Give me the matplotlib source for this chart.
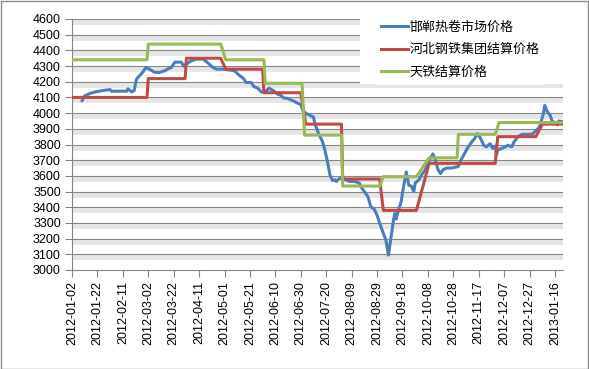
import numpy as np
import pandas as pd
import matplotlib
matplotlib.use('Agg')
import matplotlib.pyplot as plt
import matplotlib.dates as mdates
from matplotlib import patheffects as pe
from matplotlib.patches import Rectangle

plt.rcParams['font.family'] = ['Liberation Sans', 'Noto Sans CJK SC', 'DejaVu Sans']

# 邯郸热卷市场价格
handan_dates = [
    '2012-01-10', '2012-01-12', '2012-01-16', '2012-01-20', '2012-01-27', '2012-02-01',
    '2012-02-02', '2012-02-14', '2012-02-15', '2012-02-18', '2012-02-20', '2012-02-21',
    '2012-02-22', '2012-02-25', '2012-02-27', '2012-02-29', '2012-03-03', '2012-03-07',
    '2012-03-11', '2012-03-15', '2012-03-17', '2012-03-20', '2012-03-23', '2012-03-28',
    '2012-03-30', '2012-04-04', '2012-04-09', '2012-04-14', '2012-04-18', '2012-04-22',
    '2012-04-25', '2012-05-01', '2012-05-05', '2012-05-09', '2012-05-12', '2012-05-16',
    '2012-05-18', '2012-05-22', '2012-05-24', '2012-05-27', '2012-05-30', '2012-06-02',
    '2012-06-05', '2012-06-09', '2012-06-12', '2012-06-14', '2012-06-17', '2012-06-19',
    '2012-06-22', '2012-06-25', '2012-06-27', '2012-06-30', '2012-07-02', '2012-07-04',
    '2012-07-06', '2012-07-10', '2012-07-11', '2012-07-14', '2012-07-17', '2012-07-19',
    '2012-07-21', '2012-07-23', '2012-07-25', '2012-07-27', '2012-07-28', '2012-07-30',
    '2012-08-01', '2012-08-03', '2012-08-07', '2012-08-11', '2012-08-15', '2012-08-16',
    '2012-08-19', '2012-08-22', '2012-08-24', '2012-08-27', '2012-08-29', '2012-08-31',
    '2012-09-02', '2012-09-05', '2012-09-07', '2012-09-09', '2012-09-11', '2012-09-12',
    '2012-09-13', '2012-09-15', '2012-09-17', '2012-09-18', '2012-09-21', '2012-09-22',
    '2012-09-23', '2012-09-25', '2012-09-27', '2012-09-28', '2012-10-01', '2012-10-03',
    '2012-10-06', '2012-10-09', '2012-10-12', '2012-10-14', '2012-10-16', '2012-10-18',
    '2012-10-20', '2012-10-23', '2012-10-27', '2012-11-01', '2012-11-03', '2012-11-06',
    '2012-11-08', '2012-11-11', '2012-11-14', '2012-11-16', '2012-11-17', '2012-11-19',
    '2012-11-21', '2012-11-23', '2012-11-26', '2012-11-28', '2012-11-30', '2012-12-01',
    '2012-12-02', '2012-12-05', '2012-12-08', '2012-12-10', '2012-12-13', '2012-12-15',
    '2012-12-18', '2012-12-21', '2012-12-29', '2012-12-31', '2013-01-02', '2013-01-04',
    '2013-01-07', '2013-01-08', '2013-01-10', '2013-01-12', '2013-01-14', '2013-01-17',
    '2013-01-18', '2013-01-19', '2013-01-22',
]
handan_price = [
    4080, 4110, 4125, 4135, 4145, 4150,
    4140, 4140, 4155, 4135, 4145, 4190,
    4220, 4245, 4265, 4290, 4280, 4260,
    4260, 4270, 4280, 4290, 4325, 4325,
    4300, 4330, 4345, 4345, 4320, 4290,
    4280, 4280, 4275, 4270, 4245, 4220,
    4195, 4195, 4170, 4160, 4135, 4135,
    4160, 4140, 4120, 4115, 4095, 4095,
    4085, 4075, 4065, 4055, 4010, 4000,
    3990, 3975, 3935, 3870, 3820, 3765,
    3690, 3605, 3570, 3575, 3565, 3580,
    3590, 3580, 3565, 3565, 3555, 3535,
    3500, 3465, 3405, 3385, 3350, 3300,
    3255, 3190, 3095, 3210, 3320, 3360,
    3325, 3385, 3435, 3490, 3625, 3585,
    3540, 3535, 3500, 3555, 3575, 3605,
    3640, 3700, 3740, 3700, 3640, 3615,
    3640, 3650, 3650, 3660, 3700, 3745,
    3775, 3810, 3840, 3870, 3860, 3830,
    3795, 3785, 3805, 3775, 3790, 3735,
    3765, 3775, 3785, 3795, 3785, 3820,
    3850, 3865, 3865, 3880, 3895, 3915,
    4000, 4050, 4010, 3990, 3945, 3940,
    3925, 3950, 3945,
]

# 河北钢铁集团结算价格
hebei_dates = [
    '2012-01-02', '2012-03-01', '2012-03-02', '2012-03-31', '2012-04-01', '2012-04-28',
    '2012-05-02', '2012-05-31', '2012-06-01', '2012-06-30', '2012-07-04', '2012-08-01',
    '2012-08-02', '2012-08-31', '2012-09-03', '2012-09-29', '2012-10-09', '2012-11-30',
    '2012-12-02', '2013-01-01', '2013-01-06', '2013-01-22',
]
hebei_price = [
    4100, 4100, 4220, 4220, 4350, 4350,
    4280, 4280, 4130, 4130, 3930, 3930,
    3580, 3580, 3380, 3380, 3680, 3680,
    3850, 3850, 3930, 3930,
]

# 天铁结算价格
tiantie_dates = [
    '2012-01-02', '2012-03-01', '2012-03-02', '2012-04-28', '2012-05-02', '2012-06-01',
    '2012-06-02', '2012-07-01', '2012-07-03', '2012-08-01', '2012-08-02', '2012-08-31',
    '2012-09-03', '2012-09-29', '2012-10-09', '2012-10-31', '2012-11-01', '2012-11-30',
    '2012-12-03', '2013-01-22',
]
tiantie_price = [
    4340, 4340, 4440, 4440, 4340, 4340,
    4190, 4190, 3860, 3860, 3535, 3535,
    3595, 3595, 3715, 3715, 3865, 3865,
    3940, 3940,
]

tick_dates = pd.date_range('2012-01-02', '2013-01-16', freq='20D')

fig = plt.figure(figsize=(5.89, 3.69), dpi=100)
ax = fig.add_axes([72/589, 1-270/369, (563-72)/589, (270-19)/369])

grid_col = '#868686'
for y in range(3100, 4700, 100):
    ax.axhline(y, color=grid_col, lw=0.8, zorder=0.5,
               path_effects=[pe.SimpleLineShadow(offset=(0, -2.2), shadow_color='black',
                                                 alpha=0.10, linewidth=3.5),
                             pe.Normal()])

ax.plot(pd.to_datetime(handan_dates), handan_price, color='#4A7EBB', lw=2.2,
        label='邯郸热卷市场价格', zorder=3)
ax.plot(pd.to_datetime(hebei_dates), hebei_price, color='#BE4B48', lw=2.2,
        label='河北钢铁集团结算价格', zorder=4)
ax.plot(pd.to_datetime(tiantie_dates), tiantie_price, color='#98B954', lw=2.2,
        label='天铁结算价格', zorder=5)

ax.set_ylim(3000, 4600)
ax.set_yticks(range(3000, 4700, 100))
ax.set_xlim(pd.Timestamp('2012-01-02'), pd.Timestamp('2013-01-22 08:00'))
ax.set_xticks(tick_dates)
ax.xaxis.set_major_formatter(mdates.DateFormatter('%Y-%m-%d'))
plt.setp(ax.get_xticklabels(), rotation=90, fontsize=9)
plt.setp(ax.get_yticklabels(), fontsize=9)
ax.tick_params(axis='both', direction='out', length=5, width=0.8, color=grid_col, pad=3)

for s in ['top', 'right']:
    ax.spines[s].set_visible(False)
for s in ['left', 'bottom']:
    ax.spines[s].set_color(grid_col)
    ax.spines[s].set_linewidth(0.8)
ax.set_facecolor('none')

# white legend area (Excel legend box is wider than its contents)
fig.patches.append(Rectangle((360/589, 1-84/369), 205/589, 70/369,
                             transform=fig.transFigure, facecolor='white',
                             edgecolor='none', zorder=5))

leg = fig.legend(loc='upper left', bbox_to_anchor=(375/589, 1-15/369),
                 prop={'family': ['Noto Sans CJK SC'], 'size': 9.4},
                 frameon=True, fancybox=False, facecolor='white', edgecolor='none',
                 framealpha=1, handlelength=2.05, handletextpad=0.15,
                 labelspacing=0.72, borderpad=0.45, borderaxespad=0)
leg.set_zorder(10)

fig.patches.append(Rectangle((0.5/589, 0.5/369), 1-1.5/589, 1-1.5/369,
                             transform=fig.transFigure, fill=False,
                             edgecolor='#8c8c8c', lw=1))

fig.savefig('out.png', dpi=100)
